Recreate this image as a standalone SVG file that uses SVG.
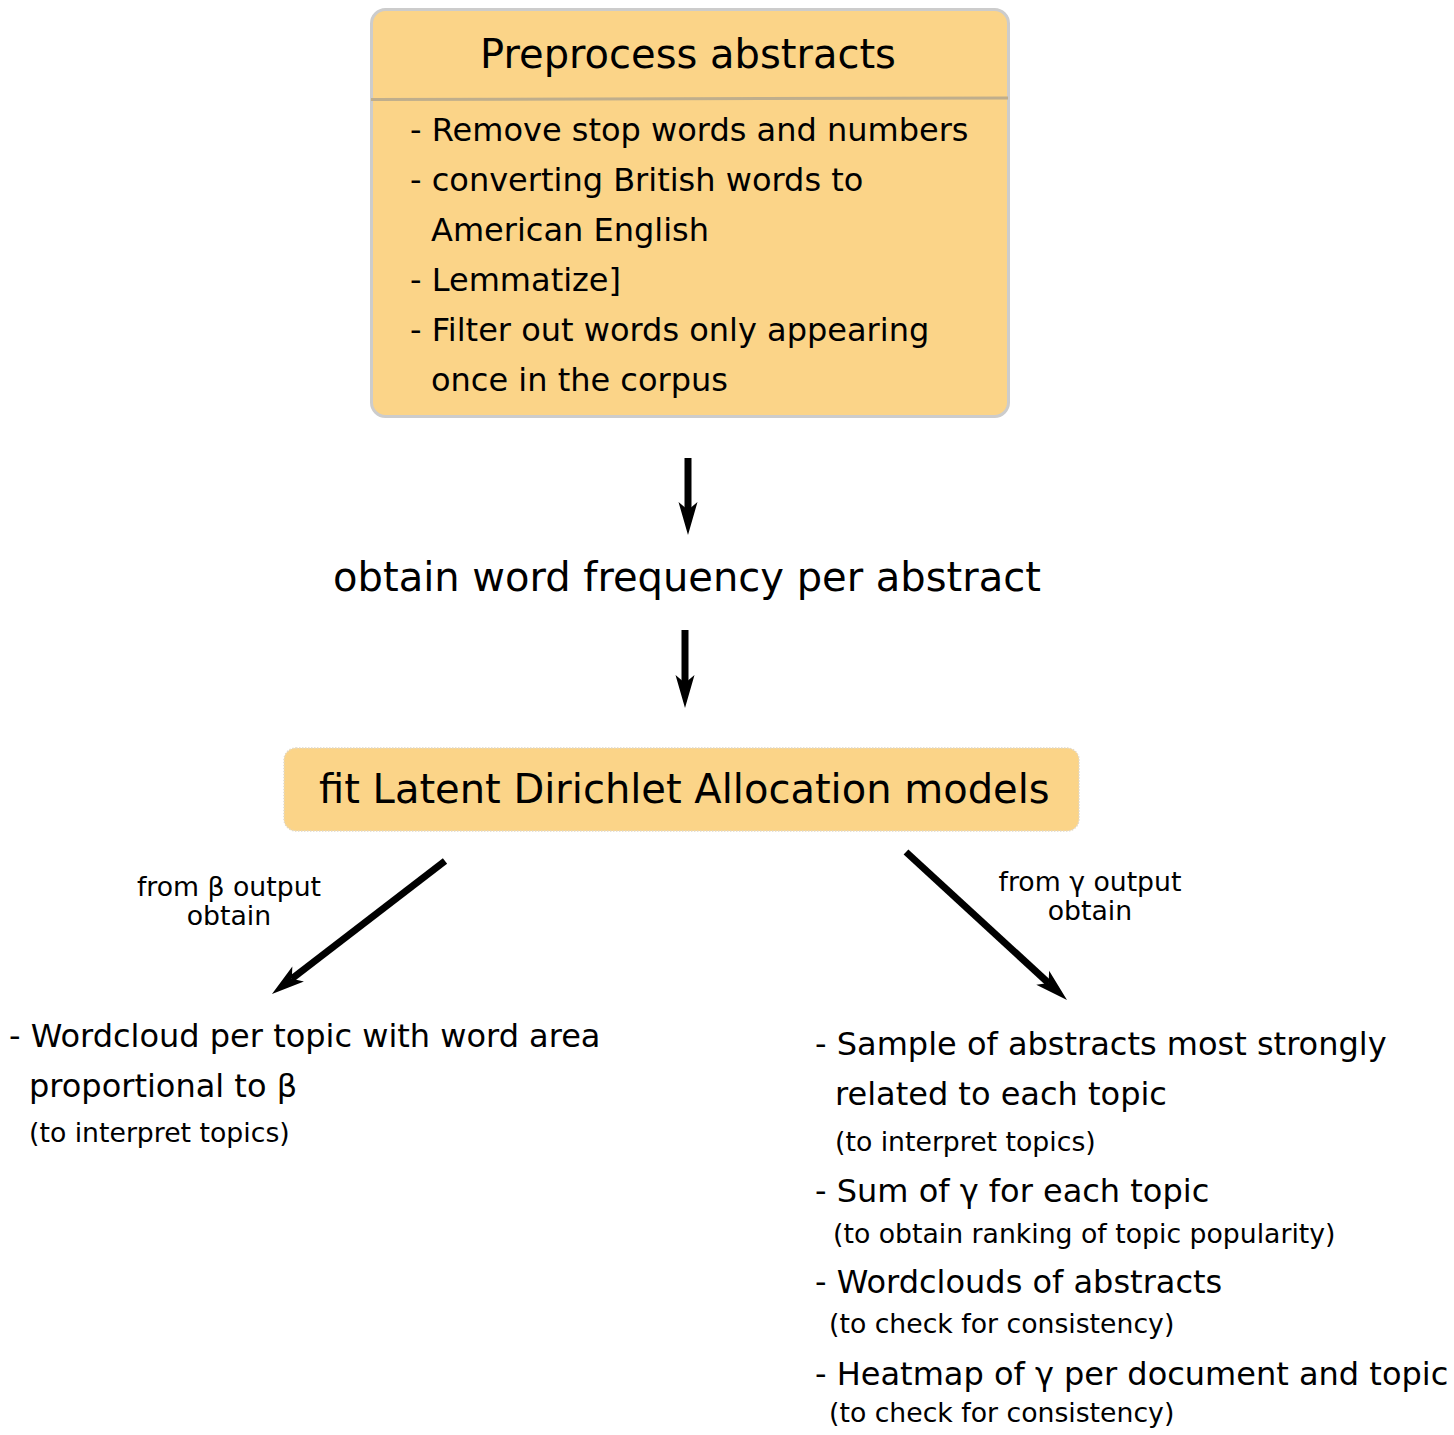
<svg xmlns="http://www.w3.org/2000/svg" width="1454" height="1435" viewBox="0 0 1454 1435">
<defs>
<style>
text{font-family:"DejaVu Sans","Liberation Sans",sans-serif;fill:#000}
.t{font-size:32px}
.s{font-size:26.7px}
.b{font-size:40px}
.c{text-anchor:middle}
.conn{stroke:#000;stroke-width:7;fill:none}
</style>
<marker id="a" viewBox="0 0 33 20" refX="8" refY="10" markerWidth="33" markerHeight="20" markerUnits="userSpaceOnUse" orient="auto" overflow="visible">
<path d="M0,0.5 L33,10 L0,19.5 L8,10 Z" fill="#000"/>
</marker>
</defs>
<g id="preprocess">
<rect x="371.5" y="9.5" width="637" height="407" rx="14" fill="#fbd488" stroke="#cccccc" stroke-width="3"/>
<line x1="371" y1="99.5" x2="1008" y2="98" stroke="#bfae8c" stroke-width="3"/>
<text class="c b" x="688" y="68">Preprocess abstracts</text>
<text class="t" x="410" y="141">- Remove stop words and numbers</text>
<text class="t" x="410" y="191">- converting British words to</text>
<text class="t" x="431" y="241">American English</text>
<text class="t" x="410" y="291">- Lemmatize]</text>
<text class="t" x="410" y="341">- Filter out words only appearing</text>
<text class="t" x="431" y="391">once in the corpus</text>
</g>
<g id="wordfreq">
<text class="c b" x="687" y="591">obtain word frequency per abstract</text>
</g>
<g id="lda">
<rect x="284" y="748" width="795" height="83" rx="12" fill="#fbd488" stroke="#e0d8c8" stroke-width="1.5" stroke-dasharray="1.5 1.5"/>
<text class="b" x="319" y="803">fit Latent Dirichlet Allocation models</text>
</g>
<g id="beta-output">
<text class="t" x="9" y="1047">- Wordcloud per topic with word area</text>
<text class="t" x="29" y="1097">proportional to β</text>
<text class="s" x="29" y="1142">(to interpret topics)</text>
</g>
<g id="gamma-output">
<text class="t" x="815" y="1055">- Sample of abstracts most strongly</text>
<text class="t" x="835" y="1105">related to each topic</text>
<text class="s" x="835" y="1151">(to interpret topics)</text>
<text class="t" x="815" y="1202">- Sum of γ for each topic</text>
<text class="s" x="833" y="1243">(to obtain ranking of topic popularity)</text>
<text class="t" x="815" y="1293">- Wordclouds of abstracts</text>
<text class="s" x="829" y="1333">(to check for consistency)</text>
<text class="t" x="815" y="1385">- Heatmap of γ per document and topic</text>
<text class="s" x="829" y="1422">(to check for consistency)</text>
</g>
<g id="connectors">
<line class="conn" x1="688" y1="458" x2="688" y2="510" marker-end="url(#a)"/>
<line class="conn" x1="685" y1="630" x2="685" y2="683" marker-end="url(#a)"/>
<line class="conn" x1="445" y1="861" x2="291.8" y2="978.8" marker-end="url(#a)"/>
<line class="conn" x1="906" y1="852" x2="1048.6" y2="983.1" marker-end="url(#a)"/>
<text class="s c" x="229" y="896">from β output</text>
<text class="s c" x="229" y="925">obtain</text>
<text class="s c" x="1090" y="891">from γ output</text>
<text class="s c" x="1090" y="920">obtain</text>
</g>
</svg>
